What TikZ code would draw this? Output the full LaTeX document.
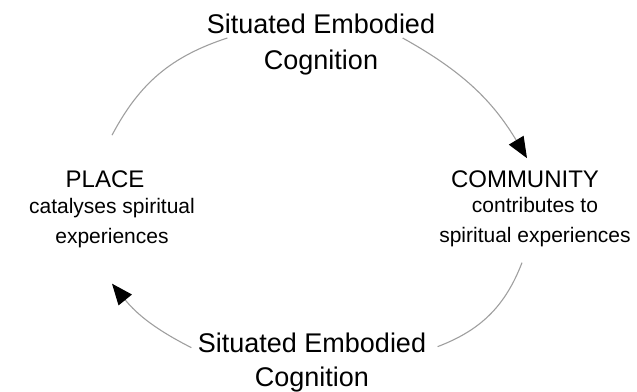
\documentclass[tikz,border=0pt]{standalone}
\usepackage{fontspec}
\setmainfont{Liberation Sans}
\usetikzlibrary{arrows.meta}
\newcommand{\drawArc}[4]{
  \draw[arc, #4] (#1) to[bend left=#3] (#2);
}

\begin{document}
\begin{tikzpicture}[x=1pt, y=1pt, line width=1.1pt,
  arc/.style={gray!75},
  tip/.style={-{Triangle[length=21pt, width=17pt, color=black]}},
  title/.style={font=\fontsize{24}{28}\selectfont, inner sep=0pt},
  desc/.style={font=\fontsize{21}{30}\selectfont, align=center, inner sep=0pt},
  link/.style={font=\fontsize{27}{36}\selectfont, align=center, inner sep=0pt}]
  \useasboundingbox (0,0) rectangle (637,391);
  % Nodes
  \node[link, anchor=north] (topLink) at (321,378) {Situated Embodied\\Cognition};
  \node[title, anchor=base] (community) at (525,203) {COMMUNITY};
  \node[desc, anchor=north] (communityDesc) at (535,194) {contributes to\\spiritual experiences};
  \node[link, anchor=north, font=\fontsize{27}{34}\selectfont] (bottomLink) at (312,59) {Situated Embodied\\Cognition};
  \node[title, anchor=base] (place) at (105,203) {PLACE};
  \node[desc, anchor=north] (placeDesc) at (112,193) {catalyses spiritual\\experiences};
  % Arcs
  \drawArc{[xshift=7pt, yshift=35.5pt]place.north}{[xshift=21pt, yshift=-25pt]topLink.north west}{22}{}
  \drawArc{[xshift=-33pt, yshift=-25pt]topLink.north east}{[xshift=2pt, yshift=12.5pt]community.north}{15}{tip}
  \drawArc{[xshift=-13pt, yshift=-15pt]communityDesc.south}{[xshift=11pt, yshift=15.5pt]bottomLink.east}{24}{}
  \drawArc{[xshift=-6pt, yshift=14.5pt]bottomLink.west}{[yshift=-35pt]placeDesc.south}{12}{tip}
\end{tikzpicture}
\end{document}
